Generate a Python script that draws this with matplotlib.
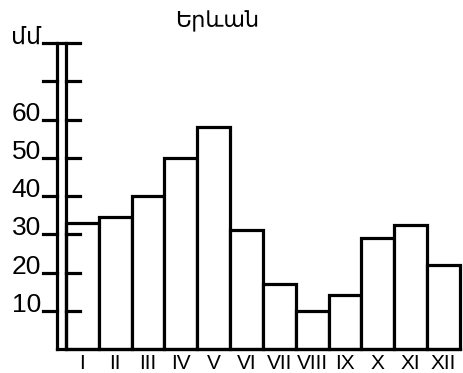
import matplotlib
matplotlib.use('Agg')
import matplotlib.pyplot as plt
import numpy as np

months = ['I', 'II', 'III', 'IV', 'V', 'VI', 'VII', 'VIII', 'IX', 'X', 'XI', 'XII']
precip = [33, 34.5, 40, 50, 58, 31, 17, 10, 14, 29, 32.5, 22]
tick_values = [10, 20, 30, 40, 50, 60, 70, 80]
tick_labels = ['10', '20', '30', '40', '50', '60', '', '']
title = 'Երևան'
unit = 'մմ'

plt.rcParams['font.family'] = ['Liberation Sans', 'DejaVu Sans']

fig = plt.figure(figsize=(4.63, 3.73), dpi=100)
ax = fig.add_axes([0, 0, 1, 1])
ax.set_axis_off()

# pixel geometry: bar width ~32.8px, 1 mm ~3.825px
bw = 32.83
mm = 3.825
ax.set_xlim(-0.5 - 66 / bw, -0.5 + (463 - 66) / bw)
ax.set_ylim(-24 / mm, 349 / mm)

lw = 2.3
x = np.arange(len(months))
ax.bar(x, precip, width=1.0, facecolor='white', edgecolor='black',
       linewidth=lw, zorder=3)

# double vertical axis
x_in = -0.5
x_out = -0.5 - 9.5 / bw
ymax = tick_values[-1]
ax.plot([x_out, x_out], [0, ymax], color='black', lw=lw, zorder=4)
ax.plot([x_in, x_in], [0, ymax], color='black', lw=lw, zorder=4)
ax.plot([x_out, len(months) - 0.5], [0, 0], color='black', lw=lw, zorder=4)

tl = 14 / bw
for v, lab in zip(tick_values, tick_labels):
    if v == ymax:
        ax.plot([x_out - tl, x_in + tl], [v, v], color='black', lw=lw, zorder=4)
    else:
        ax.plot([x_out - tl, x_out], [v, v], color='black', lw=lw, zorder=4)
        ax.plot([x_in, x_in + tl], [v, v], color='black', lw=lw, zorder=4)
    if lab:
        ax.text(x_out - tl - 0.05, v - 0.3, lab, ha='right', va='baseline',
                fontsize=19)

ax.text(x_out - tl - 0.05, ymax - 0.3, unit, ha='right', va='baseline',
        fontsize=17, family=['DejaVu Sans'])
ax.text(4.1, ymax + 5.6, title, ha='center', va='center', fontsize=16,
        family=['DejaVu Sans'])

for xi, m in zip(x, months):
    ax.text(xi, -3.8, m, ha='center', va='center', fontsize=15)

fig.savefig('out.png', dpi=100, facecolor='white')
